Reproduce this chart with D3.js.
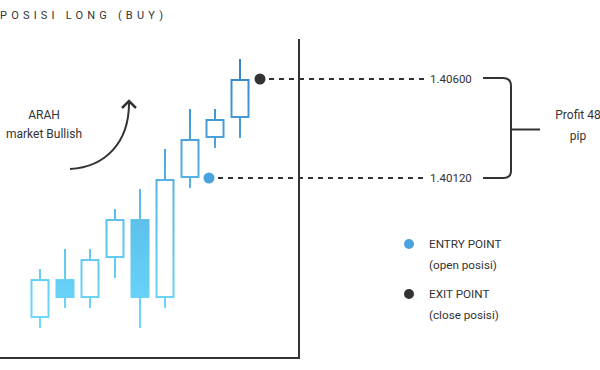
<!DOCTYPE html>
<html><head><meta charset="utf-8">
<script src="https://cdn.jsdelivr.net/npm/d3@7"></script>
<style>body{margin:0;background:#fff;}svg{display:block;font-family:Roboto,"Noto Sans",sans-serif;}</style>
</head><body><svg id="c" width="600" height="370"></svg>
<script>
// Data
const candleIndex = [0,1,2,3,4,5,6,7,8];
const openP  = [1.39441,1.39630,1.39538,1.39732,1.39921,1.39538,1.40120,1.40314,1.40411];
const closeP = [1.39630,1.39538,1.39727,1.39921,1.39538,1.40115,1.40309,1.40406,1.40600];
const highP  = [1.39679,1.39776,1.39776,1.39970,1.40067,1.40261,1.40455,1.40455,1.40697];
const lowP   = [1.39393,1.39490,1.39490,1.39635,1.39393,1.39490,1.40072,1.40265,1.40314];
const entryPrice = 1.40120, exitPrice = 1.40600;
const entryLabel = "1.40120", exitLabel = "1.40600";
const titleText = "POSISI LONG (BUY)";
const profitLines = ["Profit 48","pip"];
const arahLines = ["ARAH","market Bullish"];
const legendItems = [
  {label:"ENTRY POINT", sub:"(open posisi)", color:"#4aa3df"},
  {label:"EXIT POINT", sub:"(close posisi)", color:"#333333"}
];

const svg = d3.select("#c");
const x = d3.scaleLinear().domain([0,8]).range([40,240]);
const y = d3.scaleLinear().domain([entryPrice, exitPrice]).range([178,79]);
const bw = 19;

// gradient
const defs = svg.append("defs");
const g = defs.append("linearGradient").attr("id","cg").attr("gradientUnits","userSpaceOnUse")
  .attr("x1",0).attr("x2",0).attr("y1",y(d3.min(lowP))).attr("y2",y(d3.max(highP)));
g.append("stop").attr("offset","0").attr("stop-color","#6dd9fc");
g.append("stop").attr("offset","0.45").attr("stop-color","#5bbde9");
g.append("stop").attr("offset","1").attr("stop-color","#3781c5");

// title
svg.append("text").attr("x",0).attr("y",19).attr("font-size",11).attr("fill","#333")
  .attr("letter-spacing","4.2px").text(titleText);

// axes
svg.append("line").attr("x1",299).attr("x2",299).attr("y1",39).attr("y2",359).attr("stroke","#333").attr("stroke-width",2);
svg.append("line").attr("x1",0).attr("x2",300).attr("y1",358).attr("y2",358).attr("stroke","#333").attr("stroke-width",2);

// candles
const cg = svg.append("g");
candleIndex.forEach(i => {
  const cx = x(i);
  const o = openP[i], c = closeP[i];
  const top = y(Math.max(o,c)), bot = y(Math.min(o,c));
  const bull = c > o;
  cg.append("line").attr("x1",cx).attr("x2",cx).attr("y1",y(highP[i])).attr("y2",top)
    .attr("stroke","url(#cg)").attr("stroke-width",2);
  cg.append("line").attr("x1",cx).attr("x2",cx).attr("y1",bot).attr("y2",y(lowP[i]))
    .attr("stroke","url(#cg)").attr("stroke-width",2);
  if (bull) {
    cg.append("rect").attr("x",cx-bw/2+1).attr("y",top+1).attr("width",bw-2).attr("height",bot-top-2)
      .attr("fill","none").attr("stroke","url(#cg)").attr("stroke-width",2);
  } else {
    cg.append("rect").attr("x",cx-bw/2).attr("y",top).attr("width",bw).attr("height",bot-top)
      .attr("fill","url(#cg)");
  }
});

// entry / exit dots and dashed lines
const entryX = x(6) + 19, exitX = x(8) + 20;
svg.append("line").attr("x1",entryX+9).attr("x2",425).attr("y1",y(entryPrice)).attr("y2",y(entryPrice))
  .attr("stroke","#333").attr("stroke-width",2).attr("stroke-dasharray","5,5");
svg.append("line").attr("x1",exitX+9).attr("x2",425).attr("y1",y(exitPrice)).attr("y2",y(exitPrice))
  .attr("stroke","#333").attr("stroke-width",2).attr("stroke-dasharray","5,5");
svg.append("circle").attr("cx",entryX).attr("cy",y(entryPrice)).attr("r",5.5).attr("fill","#4aa3df");
svg.append("circle").attr("cx",exitX).attr("cy",y(exitPrice)).attr("r",5.5).attr("fill","#333");

svg.append("text").attr("x",430).attr("y",y(exitPrice)+4).attr("font-size",11.5).attr("fill","#333").text(exitLabel);
svg.append("text").attr("x",430).attr("y",y(entryPrice)+4).attr("font-size",11.5).attr("fill","#333").text(entryLabel);

// bracket
const yt = y(exitPrice), yb = y(entryPrice), ym = (yt+yb)/2 + 1;
svg.append("path").attr("d",`M483,${yt-1} H503 Q511,${yt-1} 511,${yt+7} V${yb-7} Q511,${yb} 503,${yb} H483 M511,${ym} H540`)
  .attr("fill","none").attr("stroke","#333").attr("stroke-width",2);
svg.append("text").attr("x",578).attr("text-anchor","middle").attr("font-size",12).attr("fill","#333")
  .selectAll("tspan").data(profitLines).join("tspan").attr("x",578).attr("y",(d,i)=>119+i*21).text(d=>d);

// ARAH text and arrow
svg.append("text").attr("text-anchor","middle").attr("font-size",12).attr("fill","#333")
  .selectAll("tspan").data(arahLines).join("tspan").attr("x",44).attr("y",(d,i)=>119+i*19).text(d=>d);
svg.append("path").attr("d","M70,169 C106,167 129,142 129,103").attr("fill","none").attr("stroke","#333").attr("stroke-width",2);
svg.append("path").attr("d","M122,108 L129,101 L136,108").attr("fill","none").attr("stroke","#333").attr("stroke-width",2.5);

// legend
legendItems.forEach((d,i) => {
  const ly = 244 + i*50;
  svg.append("circle").attr("cx",409).attr("cy",ly).attr("r",5).attr("fill",d.color);
  svg.append("text").attr("x",429).attr("y",ly+4).attr("font-size",11.7).attr("fill","#333").text(d.label);
  svg.append("text").attr("x",429).attr("y",ly+25).attr("font-size",11.7).attr("fill","#333").text(d.sub);
});
</script></body></html>
